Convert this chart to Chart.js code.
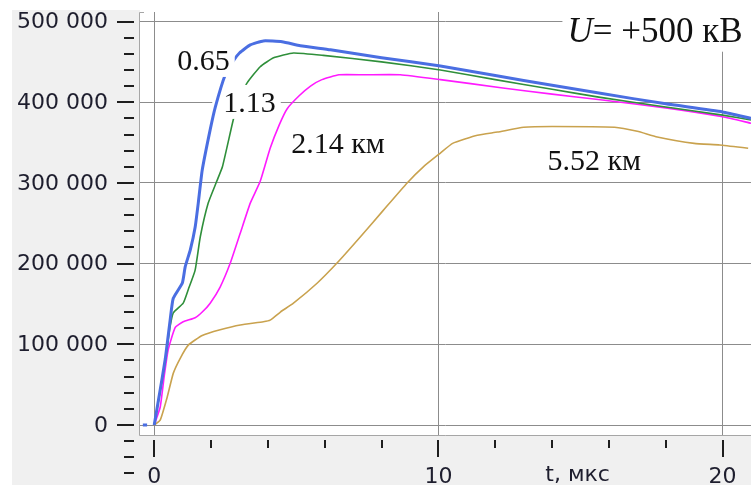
<!DOCTYPE html>
<html>
<head>
<meta charset="utf-8">
<script src="https://cdn.jsdelivr.net/npm/chart.js@4.4.1/dist/chart.umd.min.js"></script>
<style>
  html, body { margin: 0; padding: 0; background: #fff; }
  #wrap { width: 751px; height: 485px; }
</style>
</head>
<body>
<div id="wrap"><canvas id="chart" width="751" height="485"></canvas></div>
<script>
// t, мкс  /  U, кВ
const t065 = [-0.4, -0.25, -0.1, 0, 0.15, 0.39, 0.56, 0.67, 0.99, 1.09, 1.27, 1.44, 1.55, 1.69, 1.97, 2.15, 2.5, 2.8, 3.0, 3.38, 3.84, 4.5, 5.14, 6.2, 8, 10.07, 12, 14, 15.7, 18, 20, 21];
const u065 = [0, 0, null, 0, 31, 82, 130, 157, 176, 196, 217, 245, 275, 316, 366, 394, 434, 452, 461, 471, 476, 475, 470, 465, 455, 445, 433, 421, 411, 398, 388, 380];

const t113 = [0, 0.15, 0.39, 0.55, 0.67, 1.02, 1.2, 1.44, 1.62, 1.9, 2.2, 2.4, 2.78, 3.0, 3.27, 3.73, 4.2, 4.9, 5.95, 8, 10.07, 12, 14, 15.7, 18, 20, 21];
const u113 = [0, 30, 80, 120, 139, 151, 168, 192, 233, 275, 302, 320, 378, 405, 424, 444, 455, 461, 458, 450, 440, 428, 416, 406, 394, 384, 378];

const t214 = [0, 0.21, 0.35, 0.49, 0.74, 1.02, 1.44, 1.69, 1.97, 2.32, 2.68, 3.03, 3.38, 3.73, 4.08, 4.4, 4.68, 5.1, 5.5, 5.9, 6.5, 7.4, 8.66, 10.07, 12.2, 14, 15.7, 18, 20, 21];
const u214 = [0, 22, 60, 93, 121, 128, 133, 140, 151, 171, 201, 238, 275, 302, 343, 372, 392, 408, 420, 428, 434, 434, 434, 428, 418, 410, 403, 393, 382, 374];

const t552 = [0, 0.21, 0.46, 0.67, 0.92, 1.2, 1.69, 2.32, 3.03, 3.84, 4.08, 4.44, 4.9, 5.74, 6.44, 7.25, 8.06, 8.9, 9.47, 10.07, 10.5, 11.37, 12.08, 13, 14, 16.2, 17, 17.7, 19, 19.9, 20.9];
const u552 = [0, 6, 35, 64, 83, 99, 111, 118, 124, 128, 130, 140, 151, 176, 201, 233, 266, 300, 320, 337, 349, 359, 363, 369, 370, 369, 364, 357, 349, 347, 343];

const yMajor = [0, 100, 200, 300, 400, 500];
const yLabels = ['0', '100 000', '200 000', '300 000', '400 000', '500 000'];
const yMinor = [-60, -40, -20, 20, 40, 60, 80, 120, 140, 160, 180, 220, 240, 260, 280, 320, 340, 360, 380, 420, 440, 460, 480];
const xMajor = [0, 10, 20];
const xLabels = ['0', '10', '20'];
const xMinor = [2, 4, 6, 8, 12, 14, 16, 18];
const xTitle = 't, мкс';

const PANEL = '#f0f0f0';
const GRID = '#8c8c8c';
const TICK = '#1e1e1e';
const TEXT = '#1e1e2e';
const AXIS_FONT = '22px "DejaVu Sans"';
const SERIF = '"Liberation Serif", "Times New Roman", serif';

function pts(ts, us) {
  return ts.map((t, i) => ({ x: t, y: us[i] === null ? null : us[i] * 1000 }));
}

function series(ts, us, color, width) {
  return {
    data: pts(ts, us),
    borderColor: color,
    borderWidth: width,
    pointRadius: 0,
    tension: 0.15,
    fill: false,
    spanGaps: false,
  };
}

function curveLabel(chart, text, t, kv, box) {
  const { ctx, scales: { x, y } } = chart;
  const px = x.getPixelForValue(t);
  const py = y.getPixelForValue(kv * 1000);
  ctx.save();
  ctx.font = '30px ' + SERIF;
  if (box) {
    const w = ctx.measureText(text).width;
    ctx.fillStyle = '#fff';
    ctx.fillRect(px - 11, py - 27, w + 16, 34);
  }
  ctx.fillStyle = '#111';
  ctx.textBaseline = 'alphabetic';
  ctx.fillText(text, px, py);
  ctx.restore();
}

const panelPlugin = {
  id: 'panel',
  beforeDraw(chart) {
    const { ctx, chartArea: a } = chart;
    ctx.save();
    ctx.fillStyle = PANEL;
    ctx.fillRect(12, 10, a.left - 12, chart.height - 10);
    ctx.fillRect(a.left, a.bottom, chart.width - a.left, chart.height - a.bottom);
    ctx.restore();
  },
  afterDatasetDraw(chart, args) {
    if (args.index === 1) curveLabel(chart, '1.13', 2.43, 388, true);
    if (args.index === 0) curveLabel(chart, '0.65', 0.81, 440, true);
  },
  afterDatasetsDraw(chart) {
    const { ctx, scales: { x, y } } = chart;
    curveLabel(chart, '2.14 км', 4.82, 337, false);
    curveLabel(chart, '5.52 км', 13.84, 316, false);

    // U= +500 кВ
    const px = x.getPixelForValue(14.54);
    const py = y.getPixelForValue(475000);
    ctx.save();
    ctx.fillStyle = '#fff';
    ctx.fillRect(px - 5, chart.chartArea.top, chart.width - px + 5, py + 10 - chart.chartArea.top);
    ctx.fillStyle = '#111';
    ctx.font = 'italic 35px ' + SERIF;
    ctx.fillText('U', px, py);
    const uw = ctx.measureText('U').width;
    ctx.font = '35px ' + SERIF;
    ctx.fillText('= +500 кВ', px + uw, py);
    ctx.restore();
  },
  afterDraw(chart) {
    const { ctx, chartArea: a, scales: { x, y } } = chart;
    ctx.save();
    // frame
    ctx.strokeStyle = '#a6a6a6';
    ctx.lineWidth = 1;
    ctx.beginPath();
    ctx.moveTo(a.left + 4, a.top + 0.5);
    ctx.lineTo(a.left - 0.5, a.top + 0.5);
    ctx.lineTo(a.left - 0.5, a.bottom - 0.5);
    ctx.lineTo(chart.width, a.bottom - 0.5);
    ctx.stroke();

    // y ticks
    ctx.strokeStyle = TICK;
    ctx.lineWidth = 2;
    ctx.beginPath();
    yMajor.forEach((v) => {
      const py = Math.round(y.getPixelForValue(v * 1000));
      ctx.moveTo(117, py);
      ctx.lineTo(134, py);
    });
    yMinor.forEach((v) => {
      const py = Math.round(y.getPixelForValue(v * 1000));
      ctx.moveTo(124, py);
      ctx.lineTo(134, py);
    });
    // x ticks
    xMajor.forEach((t) => {
      const px = Math.round(x.getPixelForValue(t));
      ctx.moveTo(px, a.bottom + 4);
      ctx.lineTo(px, a.bottom + 21);
    });
    xMinor.forEach((t) => {
      const px = Math.round(x.getPixelForValue(t));
      ctx.moveTo(px, a.bottom + 4);
      ctx.lineTo(px, a.bottom + 12);
    });
    ctx.stroke();

    ctx.fillStyle = TEXT;
    ctx.font = AXIS_FONT;
    ctx.textAlign = 'right';
    ctx.textBaseline = 'middle';
    yMajor.forEach((v, i) => {
      ctx.fillText(yLabels[i], 108, y.getPixelForValue(v * 1000) + 1);
    });
    ctx.textAlign = 'center';
    ctx.textBaseline = 'alphabetic';
    xMajor.forEach((t, i) => {
      ctx.fillText(xLabels[i], x.getPixelForValue(t), 483);
    });
    ctx.fillText(xTitle, x.getPixelForValue(14.9), 481);
    ctx.restore();
  },
};

new Chart(document.getElementById('chart'), {
  type: 'line',
  data: {
    datasets: [
      series(t065, u065, '#4a6ee2', 3),
      series(t113, u113, '#2f8f3a', 1.6),
      series(t214, u214, '#ff1aff', 1.6),
      series(t552, u552, '#c9a24e', 1.6),
    ],
  },
  options: {
    responsive: false,
    animation: false,
    events: [],
    layout: { padding: { left: 140, top: 12, right: 0, bottom: 49 } },
    plugins: { legend: { display: false }, tooltip: { enabled: false } },
    scales: {
      x: {
        type: 'linear',
        min: -0.5,
        max: 21,
        afterBuildTicks(scale) { scale.ticks = xMajor.map((v) => ({ value: v })); },
        afterFit(scale) { scale.height = 0; },
        ticks: { display: false },
        border: { display: false },
        grid: { color: GRID, lineWidth: 1, drawTicks: false },
      },
      y: {
        type: 'linear',
        min: -13600,
        max: 511800,
        afterBuildTicks(scale) { scale.ticks = yMajor.map((v) => ({ value: v * 1000 })); },
        afterFit(scale) { scale.width = 0; },
        ticks: { display: false },
        border: { display: false },
        grid: { color: GRID, lineWidth: 1, drawTicks: false },
      },
    },
  },
  plugins: [panelPlugin],
});
</script>
</body>
</html>
